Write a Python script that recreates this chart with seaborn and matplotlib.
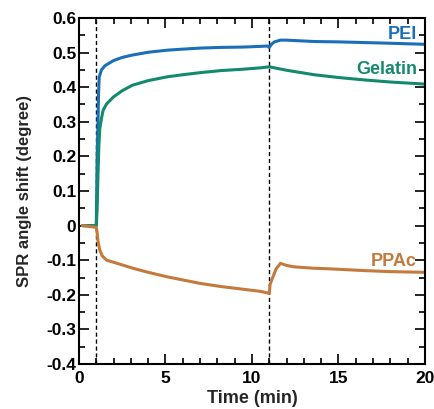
import numpy as np
import pandas as pd
import matplotlib
matplotlib.use("Agg")
import matplotlib.pyplot as plt
from matplotlib.ticker import MultipleLocator
import seaborn as sns

# values (time in min, SPR angle shift in degree)
t_pei = [0.2, 1.0, 1.05, 1.1, 1.13, 1.17, 1.3, 1.5, 2.0, 2.5, 3.1, 4.0, 5.1, 6.0, 7.0, 8.2, 9.5,
         10.5, 10.9, 11.0, 11.15, 11.3, 11.65, 12.0, 13.6, 15.0, 16.5, 18.0, 20.0]
y_pei = [0.0, 0.0, 0.2, 0.3, 0.38, 0.43, 0.45, 0.462, 0.477, 0.486, 0.493, 0.501, 0.507, 0.510,
         0.513, 0.515, 0.516, 0.518, 0.519, 0.515, 0.525, 0.531, 0.536, 0.536, 0.532, 0.531,
         0.529, 0.527, 0.524]

t_gel = [0.2, 1.0, 1.05, 1.1, 1.15, 1.2, 1.3, 1.4, 1.6, 2.0, 2.5, 3.1, 4.0, 5.1, 6.0, 7.0, 8.2,
         9.5, 10.5, 11.0, 11.3, 12.0, 13.6, 15.0, 16.5, 18.0, 20.0]
y_gel = [0.0, 0.0, 0.05, 0.15, 0.23, 0.28, 0.31, 0.334, 0.352, 0.372, 0.39, 0.406, 0.419, 0.430,
         0.436, 0.442, 0.448, 0.452, 0.456, 0.459, 0.456, 0.449, 0.436, 0.428, 0.421, 0.415, 0.409]

t_ppac = [0.2, 1.0, 1.05, 1.1, 1.2, 1.35, 1.6, 2.2, 3.1, 4.0, 5.1, 6.0, 7.0, 8.2, 9.5, 10.5, 11.0,
          11.05, 11.2, 11.4, 11.65, 12.0, 12.4, 13.5, 14.5, 16.5, 18.0, 20.0]
y_ppac = [0.0, -0.005, -0.02, -0.045, -0.07, -0.088, -0.1, -0.109, -0.123, -0.135, -0.148, -0.157,
          -0.167, -0.176, -0.184, -0.19, -0.196, -0.17, -0.15, -0.125, -0.109, -0.115, -0.119,
          -0.123, -0.125, -0.130, -0.133, -0.135]

names = ["PEI", "Gelatin", "PPAc"]
colors = ["#1a6fb8", "#138a6e", "#c47a3c"]
label_y = [0.551, 0.45, -0.105]
inject_times = [1, 11]

sns.set_theme(style="ticks")
plt.rcParams['font.family'] = ['Liberation Sans', 'DejaVu Sans']
plt.rcParams['font.weight'] = 'bold'

fig = plt.figure(figsize=(4.34, 4.09), dpi=100)
ax = fig.add_axes([0.182, 0.110, 0.797, 0.846])

for tt, yy, c in zip([t_pei, t_gel, t_ppac], [y_pei, y_gel, y_ppac], colors):
    sns.lineplot(x=tt, y=yy, color=c, lw=2.2, sort=False, estimator=None, ax=ax)

for tx in inject_times:
    ax.axvline(tx, color="black", lw=1, ls=(0, (3, 2)), zorder=0)

for name, c, ly in zip(names, colors, label_y):
    ax.text(19.55, ly, name, color=c, fontsize=13, fontweight='bold', ha='right', va='center')

ax.set_xlim(0, 20)
ax.set_ylim(-0.4, 0.6)
ax.xaxis.set_major_locator(MultipleLocator(5))
ax.xaxis.set_minor_locator(MultipleLocator(1))
ax.yaxis.set_minor_locator(MultipleLocator(0.05))
ax.set_yticks(np.arange(-0.4, 0.61, 0.1))
ax.set_yticklabels(["-0.4", "-0.3", "-0.2", "-0.1", "0", "0.1", "0.2", "0.3", "0.4", "0.5", "0.6"])
ax.tick_params(which='both', direction='in', top=True, right=True, labelsize=12.5, width=1.2,
               color='black', labelcolor='black')
ax.tick_params(which='major', length=7)
ax.tick_params(which='minor', length=4)
ax.tick_params(axis='x', pad=5)
ax.tick_params(axis='y', pad=2)
for sp in ax.spines.values():
    sp.set_color('black')
    sp.set_linewidth(1.5)

ax.set_xlabel("Time (min)", fontsize=13, fontweight='bold', labelpad=3)
ax.set_ylabel("SPR angle shift (degree)", fontsize=12, fontweight='bold', labelpad=10)

fig.savefig("out.png", dpi=100)
